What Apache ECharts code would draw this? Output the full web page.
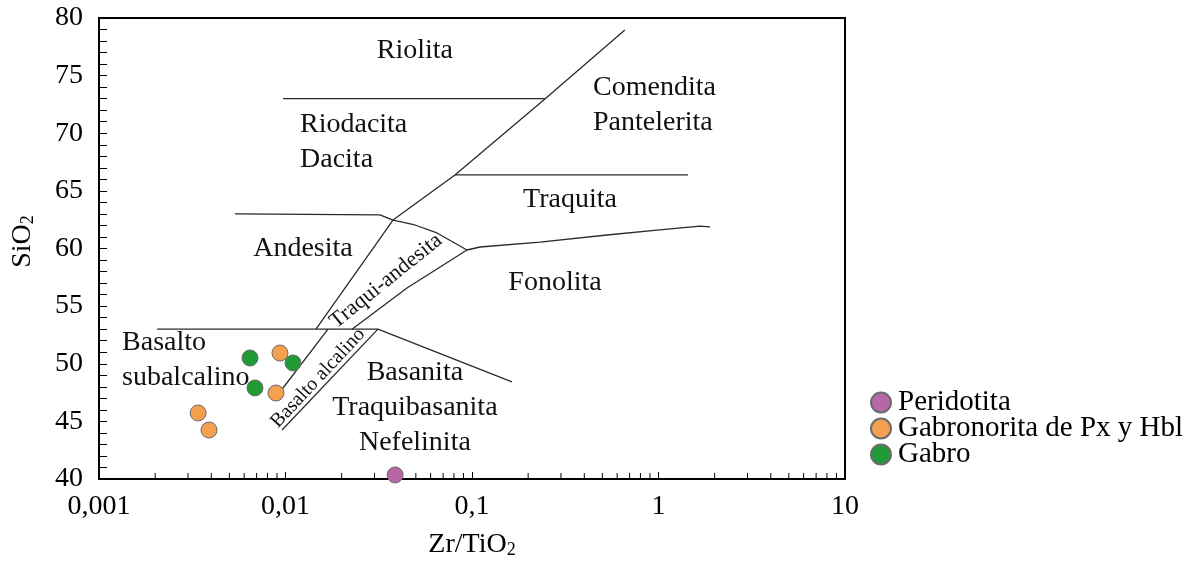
<!DOCTYPE html>
<html><head><meta charset="utf-8">
<script src="https://cdn.jsdelivr.net/npm/echarts@6/dist/echarts.min.js"></script>
<style>html,body{margin:0;padding:0;background:#fff}#c{width:1191px;height:564px}</style>
</head><body><div id="c"></div>
<script>
// ---- data ----
const xTickLabels = ['0,001', '0,01', '0,1', '1', '10'];
const xDecades = [0.001, 0.01, 0.1, 1];
const xMinorMultipliers = [2, 3, 4, 5, 6, 7, 8, 9];

const seriesNames = ['Peridotita', 'Gabronorita de Px y Hbl', 'Gabro'];
const peridotita = [[0.0387, 40.35]];
const gabronorita = [[0.00934, 50.93], [0.00889, 47.46], [0.00340, 45.73], [0.00389, 44.25]];
const gabro = [[0.00645, 50.5], [0.00686, 47.9], [0.01097, 50.07]];

// field boundaries (Zr/TiO2, SiO2)
const bRiolita = [[0.0097, 73.0], [0.246, 73.0]];
const bMainDiagonal = [[0.01457, 53.0], [0.0377, 62.47], [0.081, 66.38], [0.246, 72.97], [0.66, 78.96]];
const bTraquita = [[0.081, 66.38], [1.44, 66.38]];
const bAndesitaTop = [[0.00536, 63.0], [0.0321, 62.91], [0.0377, 62.47]];
const bTraquiandesitaTop = [[0.0377, 62.47], [0.0494, 62.04], [0.0649, 61.35], [0.094, 59.87]];
const bFonolitaTop = [[0.094, 59.87], [0.1104, 60.13], [0.2315, 60.56], [0.5296, 61.17], [0.982, 61.6], [1.669, 61.95], [1.888, 61.87]];
const bTraquiandesitaBase = [[0.02273, 53.0], [0.0448, 56.57], [0.094, 59.87]];
const bSubalcalino = [[0.00205, 53.0], [0.0313, 53.0]];
const bBasanita = [[0.0313, 53.0], [0.1638, 48.42]];
const bBasAlcLeft = [[0.0169, 53.0], [0.00934, 47.55]];
const bBasAlcRight = [[0.0313, 53.0], [0.00958, 44.25]];
const boundaries = [bRiolita, bMainDiagonal, bTraquita, bAndesitaTop, bTraquiandesitaTop,
  bFonolitaTop, bTraquiandesitaBase, bSubalcalino, bBasanita, bBasAlcLeft, bBasAlcRight];

// field names and their anchors (data coordinates)
const fieldTexts = ['Riolita', 'Riodacita\nDacita', 'Comendita\nPantelerita', 'Traquita', 'Andesita',
  'Fonolita', 'Basalto\nsubalcalino', 'Basanita\nTraquibasanita\nNefelinita', 'Traqui-andesita', 'Basalto alcalino'];
const fieldAnchors = [[0.0494, 77.14], [0.01196, 69.2], [0.4455, 72.45], [0.3353, 64.21], [0.01241, 59.96],
  [0.2786, 57.01], [0.001329, 50.28], [0.0494, 46.16], [0.03458, 57.18], [0.01494, 48.76]];
const fieldAlign = ['center', 'left', 'left', 'center', 'center', 'center', 'left', 'center', 'center', 'center'];
const fieldRotate = [0, 0, 0, 0, 0, 0, 0, 0, 39, 47];
const fieldSize = [28, 28, 28, 28, 28, 28, 28, 28, 22, 20];

// ---- chart ----
const FONT = '"Liberation Serif", "Times New Roman", serif';
const colors = ['#B766A8', '#F4A04F', '#1F9A35'];
const minorTicks = [];
xDecades.forEach(d => xMinorMultipliers.forEach(m => minorTicks.push([d * m, 40])));

const chart = echarts.init(document.getElementById('c'), null, {renderer: 'canvas'});
const series = [];
boundaries.forEach(b => series.push({
  type: 'line', data: b, symbol: 'none', silent: true, z: 2,
  lineStyle: {color: '#2a2a2a', width: 1.3}
}));
[peridotita, gabronorita, gabro].forEach((d, i) => series.push({
  name: seriesNames[i], type: 'scatter', data: d, symbolSize: 16, z: 5,
  itemStyle: {color: colors[i], borderColor: '#6b6b6b', borderWidth: 1, opacity: 1}
}));
series.push({
  type: 'custom', silent: true, z: 4, data: fieldAnchors.map((a, i) => [a[0], a[1], i]),
  encode: {x: 0, y: 1},
  renderItem: function (params, api) {
    const i = api.value(2);
    const p = api.coord([api.value(0), api.value(1)]);
    return {
      type: 'text', x: p[0], y: p[1], rotation: fieldRotate[i] * Math.PI / 180,
      style: {
        text: fieldTexts[i], fill: '#111', fontSize: fieldSize[i], fontFamily: FONT,
        align: fieldAlign[i], verticalAlign: 'middle', lineHeight: 35
      }
    };
  }
});
series.push({
  type: 'custom', silent: true, z: 3, data: minorTicks, encode: {x: 0, y: 1}, clip: false,
  renderItem: function (params, api) {
    const p = api.coord([api.value(0), api.value(1)]);
    return {type: 'line', shape: {x1: p[0], y1: p[1], x2: p[0], y2: p[1] - 6},
      style: {stroke: '#000', lineWidth: 1}};
  }
});

chart.setOption({
  animation: false,
  backgroundColor: '#fff',
  textStyle: {fontFamily: FONT},
  grid: {left: 99, right: 346, top: 18, bottom: 85, show: true, borderColor: '#000', borderWidth: 2,
    backgroundColor: 'transparent'},
  legend: {
    data: seriesNames, orient: 'vertical', left: 865, top: 383, itemWidth: 20, itemHeight: 20, itemGap: -3,
    icon: 'circle', textStyle: {fontFamily: FONT, fontSize: 29, color: '#000', lineHeight: 26, padding: [0, 0, 0, 2]}
  },
  xAxis: {
    type: 'log', logBase: 10, min: 0.001, max: 10,
    name: '{a|Zr/TiO}{b|2}', nameLocation: 'middle', nameGap: 52,
    nameTextStyle: {rich: {a: {fontFamily: FONT, fontSize: 28, color: '#000'}, b: {fontFamily: FONT, fontSize: 18, color: '#000', verticalAlign: 'bottom'}}},
    axisLine: {lineStyle: {color: '#000', width: 2}},
    axisTick: {inside: true, length: 7, lineStyle: {color: '#000', width: 1}},
    axisLabel: {fontFamily: FONT, fontSize: 28, color: '#000', margin: 14,
      formatter: v => xTickLabels[Math.round(Math.log10(v)) + 3]},
    splitLine: {show: false}
  },
  yAxis: {
    type: 'value', min: 40, max: 80, interval: 5,
    name: '{a|SiO}{b|2}', nameLocation: 'middle', nameGap: 62,
    nameTextStyle: {padding: [0, 0, 0, 14], rich: {a: {fontFamily: FONT, fontSize: 28, color: '#000'}, b: {fontFamily: FONT, fontSize: 18, color: '#000', verticalAlign: 'bottom'}}},
    axisLine: {show: true, lineStyle: {color: '#000', width: 2}},
    axisTick: {inside: true, length: 8, lineStyle: {color: '#000', width: 1}},
    minorTick: {show: true, splitNumber: 5, length: 8, lineStyle: {color: '#000', width: 1}},
    axisLabel: {fontFamily: FONT, fontSize: 28, color: '#000', margin: 16},
    splitLine: {show: false}
  },
  series: series
});
</script></body></html>
